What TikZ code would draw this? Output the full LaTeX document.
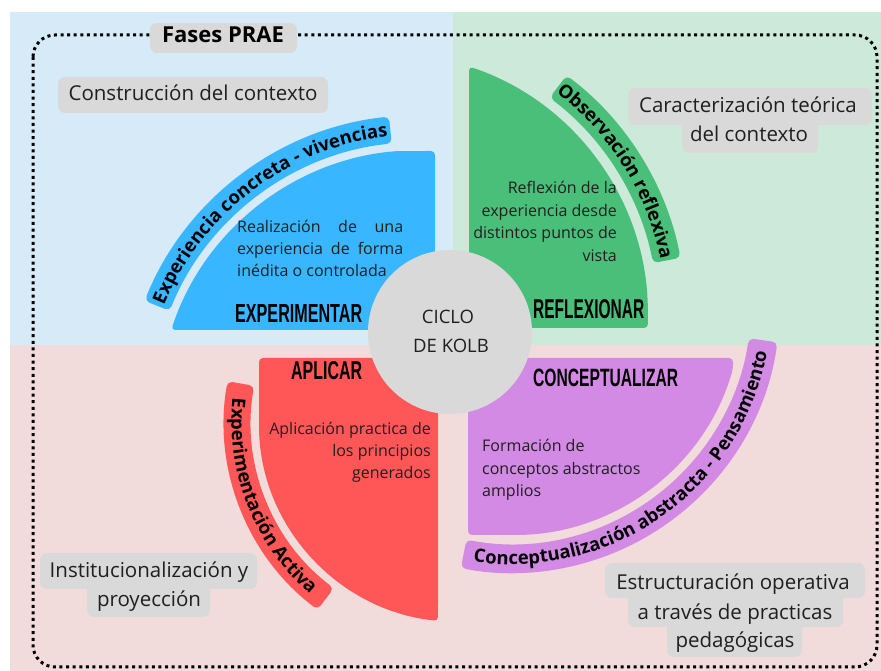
\documentclass[tikz,border=0pt]{standalone}
\usepackage{fontspec}
\usepackage{graphicx}
\setmainfont{Open Sans}
\newfontfamily\titlefont{Liberation Sans}
\usetikzlibrary{decorations.text}
\definecolor{bgblue}{HTML}{D7EAF7}
\definecolor{bggreen}{HTML}{CDE9DA}
\definecolor{bgpink}{HTML}{F1DBDB}
\definecolor{secblue}{HTML}{38B6FF}
\definecolor{secgreen}{HTML}{4ABF7A}
\definecolor{secred}{HTML}{FF5757}
\definecolor{secpurple}{HTML}{D38AE4}
\definecolor{boxgray}{HTML}{D9D9D9}
\definecolor{txt}{HTML}{1F1F1F}
\newcommand\kolbtitle[3]{\resizebox{#1pt}{#2pt}{\titlefont\bfseries #3}}
\newcommand\bnrfont{\bfseries\fontsize{18.5}{20}\selectfont}
\tikzset{
  lbl/.style={font=\fontsize{20.5}{24}\selectfont, text=txt, inner sep=0pt, anchor=base},
  desc/.style={font=\fontsize{16}{22}\selectfont, text=txt, inner sep=0pt},
  ttlnode/.style={inner sep=0pt, anchor=base west},
  graybox/.style={fill=boxgray, rounded corners=7pt},
  dotbox/.style={draw=black, line width=3pt, dash pattern=on 3pt off 3.6pt, rounded corners=22pt},
  sector/.style={rounded corners=4pt},
  band/.style={rounded corners=5pt},
}
\begin{document}
\begin{tikzpicture}[x=1pt,y=1pt]
\begin{scope}[yshift=671pt]
\useasboundingbox (0,0) rectangle (881,-671);
\fill[white] (0,0) rectangle (881,-671);
% backgrounds
\fill[bgblue] (10,-12) rectangle (453,-345);
\fill[bggreen] (453,-12) rectangle (881,-345);
\fill[bgpink] (10,-345) rectangle (881,-671);
% dotted frame
\draw[dotbox] (33,-35) rectangle (877,-667);
% gray label boxes
\fill[graybox] (150,-23) rectangle (297,-53);
\fill[graybox] (58,-77) rectangle (328,-113);
\fill[graybox] (628,-88) rectangle (872,-125);
\fill[graybox] (682,-118) rectangle (818,-153);
\fill[graybox] (40,-553) rectangle (257,-589);
\fill[graybox] (87,-582) rectangle (210,-617);
\fill[graybox] (605,-563) rectangle (865,-598);
\fill[graybox] (628,-591) rectangle (843,-627);
\fill[graybox] (667,-620) rectangle (802,-657);
\node[lbl, font=\bfseries\fontsize{22}{24}\selectfont, text=black] (fases) at (223,-43) {Fases PRAE};
\node[lbl] (constr) at (193,-101) {Construcción del contexto};
\node[lbl] (carac1) at (748,-113) {Caracterización teórica};
\node[lbl] (carac2) at (749,-142) {del contexto};
\node[lbl] (inst1) at (149,-578) {Institucionalización y};
\node[lbl] (inst2) at (149,-607) {proyección};
\node[lbl] (estr1) at (733,-590) {Estructuración operativa};
\node[lbl] (estr2) at (735,-620) {a través de practicas};
\node[lbl] (estr3) at (735,-648) {pedagógicas};
% sectors
\fill[secblue, sector] (435,-330) -- (171.2,-330) arc[start angle=161.75, end angle=95.0, radius=262] -- (435,-151) -- cycle;
\fill[secgreen, sector] (469,-328) -- (469,-66.5) arc[start angle=71.5, end angle=0, radius=262] -- (648,-328) -- cycle;
\fill[secred, sector] (259,-358) -- (259,-422) arc[start angle=180, end angle=263.97, radius=200] -- (438,-358) -- cycle;
\fill[secpurple, sector] (468,-358) -- (468,-535) -- (512,-535) arc[start angle=270, end angle=343.92, radius=230] -- (733,-358) -- cycle;
% bands
\fill[secblue, band, shift={(420,-412)}] (96:270) arc[start angle=96, end angle=158, radius=270] -- (158:297) arc[start angle=158, end angle=96, radius=297] -- cycle;
\fill[secgreen, band, shift={(386,-315)}] (11:272) arc[start angle=11, end angle=53, radius=272] -- (53:300) arc[start angle=53, end angle=11, radius=300] -- cycle;
\fill[secred, band, shift={(459,-422)}] (170:208) arc[start angle=170, end angle=233, radius=208] -- (233:235) arc[start angle=233, end angle=170, radius=235] -- cycle;
\fill[secpurple, band, shift={(512,-305)}] (-101:239) arc[start angle=-101, end angle=-8, radius=239] -- (-8:268) arc[start angle=-8, end angle=-101, radius=268] -- cycle;
% band texts
\path[shift={(420,-412)}, decorate, decoration={text along path, text align=center, text={|\bnrfont|Experiencia concreta - vivencias}}] (162:277.5) arc[start angle=162, end angle=92, radius=277.5];
\path[shift={(386,-315)}, decorate, decoration={text along path, text align=center, text={|\bnrfont|Observación reflexiva}}] (57:280) arc[start angle=57, end angle=7, radius=280];
\path[shift={(459,-422)}, decorate, decoration={text along path, text align=center, text={|\bnrfont|Experimentación Activa}}] (166:227.5) arc[start angle=166, end angle=237, radius=227.5];
\path[shift={(512,-305)}, decorate, decoration={text along path, text align=center, text={|\bnrfont|Conceptualización abstracta - Pensamiento}}] (-105:259.5) arc[start angle=-105, end angle=-4, radius=259.5];
% titles
\node[ttlnode] (exp) at (235,-323) {\kolbtitle{127}{18}{EXPERIMENTAR}};
\node[ttlnode] (ref) at (533,-319) {\kolbtitle{111}{19}{REFLEXIONAR}};
\node[ttlnode] (apl) at (291,-380) {\kolbtitle{71}{18}{APLICAR}};
\node[ttlnode] (con) at (533,-387) {\kolbtitle{145}{17.5}{CONCEPTUALIZAR}};
% descriptions
\node[desc, anchor=base west] (d1a) at (237,-233) {\makebox[166pt][s]{Realización de una}};
\node[desc, anchor=base west] (d1b) at (237,-255) {\makebox[166pt][s]{experiencia de forma}};
\node[desc, anchor=base west] (d1c) at (237,-277) {inédita o controlada};
\node[desc, anchor=base east] (d2a) at (617,-194) {Reflexión de la};
\node[desc, anchor=base east] (d2b) at (617,-217) {experiencia desde};
\node[desc, anchor=base east] (d2c) at (617,-239) {distintos puntos de};
\node[desc, anchor=base east] (d2d) at (617,-262) {vista};
\node[desc, anchor=base east] (d3a) at (431,-435) {Aplicación practica de};
\node[desc, anchor=base east] (d3b) at (431,-457) {los principios};
\node[desc, anchor=base east] (d3c) at (431,-479) {generados};
\node[desc, anchor=base west] (d4a) at (482,-452) {Formación de};
\node[desc, anchor=base west] (d4b) at (482,-475) {conceptos abstractos};
\node[desc, anchor=base west] (d4c) at (482,-497) {amplios};
% center circle
\node[circle, fill=boxgray, minimum size=164pt, inner sep=0pt] (kolb) at (450,-332) {};
\node[lbl, font=\fontsize{18.5}{20}\selectfont] (ciclo) at (448,-324) {CICLO};
\node[lbl, font=\fontsize{18.5}{20}\selectfont] (dekolb) at (451,-353) {DE KOLB};
\end{scope}
\end{tikzpicture}
\end{document}
